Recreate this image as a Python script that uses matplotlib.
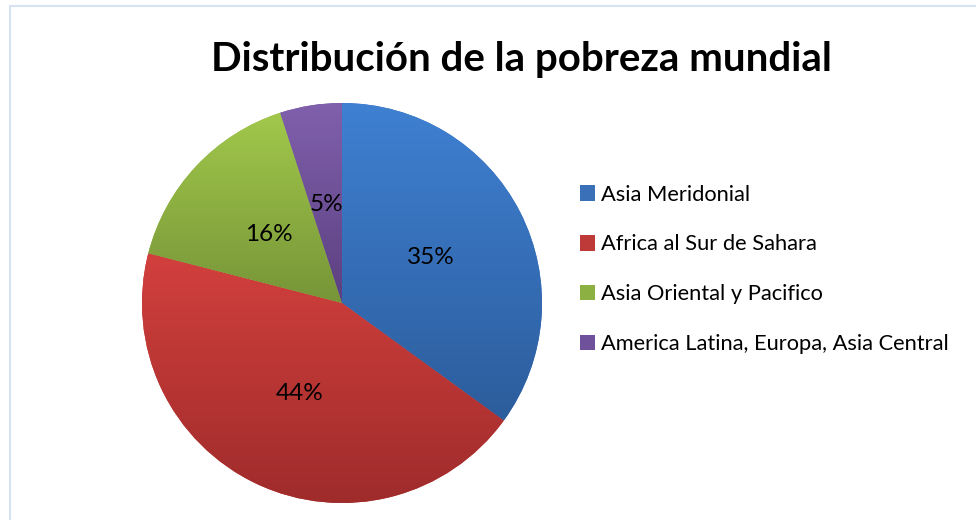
import numpy as np
import matplotlib
matplotlib.use("Agg")
import matplotlib.pyplot as plt
from matplotlib.patches import Rectangle, Patch
from matplotlib.colors import LinearSegmentedColormap

categories = ["Asia Meridonial", "Africa al Sur de Sahara",
              "Asia Oriental y Pacifico", "America Latina, Europa, Asia Central"]
values = [35, 44, 16, 5]
title = "Distribución de la pobreza mundial"

top_colors = ["#3F80D2", "#D2403D", "#A2C84B", "#8060AC"]
bottom_colors = ["#2C5D9C", "#9E2B2B", "#769538", "#5B4080"]
mid_colors = ["#3A70B8", "#BE3A38", "#8DB042", "#6E519A"]

plt.rcParams['font.family'] = ['Lato', 'DejaVu Sans']

W, H = 976, 520
fig = plt.figure(figsize=(W / 100, H / 100), dpi=100)
fig.patch.set_facecolor("white")

# outer chart border (light blue)
fig.add_artist(Rectangle((10 / W, -0.2), 2.0, (H - 6) / H + 0.2,
                         transform=fig.transFigure, fill=False,
                         edgecolor="#D5E2F2", linewidth=1.5))

cx, cy, r = 342, 303, 200
ax = fig.add_axes([(cx - r) / W, (H - cy - r) / H, 2 * r / W, 2 * r / H])
wedges, texts, autotexts = ax.pie(
    values, colors=mid_colors, startangle=90, counterclock=False,
    autopct=lambda p: f"{p:.0f}%", pctdistance=0.5, radius=1,
    wedgeprops=dict(linewidth=0),
    textprops=dict(fontsize=17.5, color="black"))
ax.set_xlim(-1, 1)
ax.set_ylim(-1, 1)
ax.set_aspect("equal")
ax.axis("off")

# gradient fill per wedge (top lighter, bottom darker)
for w, c0, c1 in zip(wedges, top_colors, bottom_colors):
    path = w.get_path()
    verts = w.get_transform().transform(path.vertices)
    verts = ax.transData.inverted().transform(verts)
    x0, x1 = verts[:, 0].min(), verts[:, 0].max()
    y0, y1 = verts[:, 1].min(), verts[:, 1].max()
    cmap = LinearSegmentedColormap.from_list("g", [c1, c0])
    grad = np.linspace(0, 1, 256).reshape(-1, 1)
    im = ax.imshow(grad, cmap=cmap, extent=[x0, x1, y0, y1], origin="lower",
                   aspect="auto", zorder=w.get_zorder() + 0.1)
    im.set_clip_path(w)
for t in autotexts:
    t.set_zorder(10)
ax.set_xlim(-1, 1)
ax.set_ylim(-1, 1)

fig.text(521 / W, 1 - 59 / H, title, ha="center", va="center",
         fontsize=29, fontweight="bold", color="black")

handles = [Patch(facecolor=c, edgecolor="none") for c in mid_colors]
leg = fig.legend(handles, categories, loc="upper left",
                 bbox_to_anchor=(571 / W, 1 - 176 / H), frameon=False,
                 fontsize=15.75, handlelength=0.7, handleheight=0.7,
                 handletextpad=0.25, labelspacing=1.36, borderaxespad=0)

fig.savefig("out.png", dpi=100, facecolor="white")
